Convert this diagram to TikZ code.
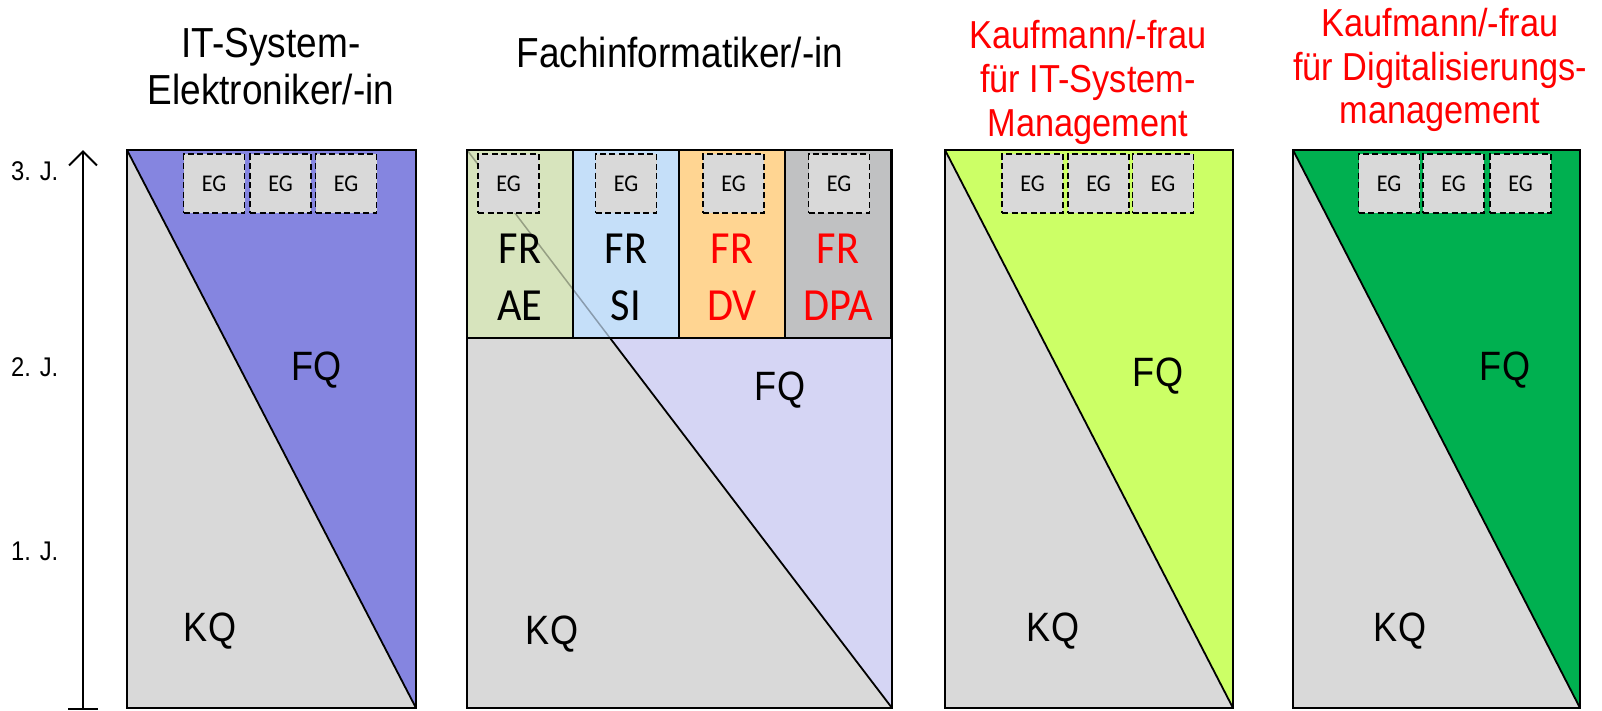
\documentclass[tikz,border=0pt]{standalone}
\usepackage{fontspec}
\setmainfont{Liberation Sans}
\newfontfamily\narrowfont[FakeStretch=0.88]{Liberation Sans}
\newfontfamily\calfont[FakeStretch=0.92]{Carlito}
\usetikzlibrary{arrows.meta}
\definecolor{kgray}{HTML}{D9D9D9}
\definecolor{blueA}{HTML}{8585E0}
\definecolor{lavA}{HTML}{D5D5F4}
\definecolor{cellgreen}{HTML}{D7E4BD}
\definecolor{cellblue}{HTML}{C5DFF9}
\definecolor{cellorange}{HTML}{FFD592}
\definecolor{cellgray}{HTML}{C0C1C2}
\definecolor{limeA}{HTML}{CCFF66}
\definecolor{greenA}{HTML}{00B050}
\definecolor{redA}{HTML}{FF0000}
\begin{document}
\begin{tikzpicture}[x=1pt,y=-1pt,
  bd/.style={draw=black, line width=1.8pt},
  cellbd/.style={draw=black, line width=2.6pt},
  diag/.style={draw=black, line width=1.8pt},
  egbox/.style={draw=black, dash pattern=on 6pt off 3.5pt, line width=1.7pt, fill=kgray,
     minimum width=61pt, minimum height=59pt, inner sep=0pt, font=\calfont\fontsize{24}{26}\selectfont},
  frtext/.style={align=center, inner sep=0pt, font=\calfont\fontsize{46}{57}\selectfont},
  qtext/.style={inner sep=0pt, font=\narrowfont\fontsize{41}{45}\selectfont},
  blacktitle/.style={align=center, inner sep=0pt, anchor=base, font=\narrowfont\fontsize{42}{47}\selectfont},
  redtitle/.style={align=center, inner sep=0pt, anchor=base, text=redA, font=\narrowfont\fontsize{39}{44}\selectfont},
  yeartext/.style={inner sep=0pt, anchor=base west, font=\narrowfont\fontsize{27}{30}\selectfont}]
\useasboundingbox (0,0) rectangle (1602,710);

% time axis
\coordinate (abot) at (83,709);
\coordinate (atop) at (83,150);
\coordinate (tickl) at (68,709);
\coordinate (tickr) at (98,709);
\draw[line width=2pt, -{Straight Barb[length=14pt,width=28pt,line width=2pt]}] (abot) -- (atop);
\draw[line width=2pt] (tickl) -- (tickr);
\node[yeartext] (y3) at (11,180) {3. J.};
\node[yeartext] (y2) at (11,376) {2. J.};
\node[yeartext] (y1) at (11,560) {1. J.};

% titles
\node[blacktitle] (t1a) at (271,57) {IT-System-};
\node[blacktitle] (t1b) at (271,104) {Elektroniker/-in};
\node[blacktitle] (t2) at (680,67) {Fachinformatiker/-in};
\node[redtitle] (t3a) at (1088,48) {Kaufmann/-frau};
\node[redtitle] (t3b) at (1088,92) {für IT-System-};
\node[redtitle] (t3c) at (1088,136) {Management};
\node[redtitle] (t4a) at (1440,36) {Kaufmann/-frau};
\node[redtitle] (t4b) at (1440,80) {für Digitalisierungs-};
\node[redtitle] (t4c) at (1440,123) {management};

% panel 1
\fill[kgray] (127,150) rectangle (416,708);
\fill[blueA] (127,150) -- (416,150) -- (416,708) -- cycle;
\draw[diag] (127,150) -- (416,708);
\draw[bd] (127,150) rectangle (416,708);
\node[egbox] (e11) at (214,183.5) {EG};
\node[egbox] (e12) at (280.5,183.5) {EG};
\node[egbox] (e13) at (346,183.5) {EG};
\node[qtext] (fq1) at (317,370) {FQ};
\node[qtext] (kq1) at (210,631) {KQ};

% panel 2
\fill[kgray] (467,150) rectangle (892,708);
\fill[lavA] (467,150) -- (892,150) -- (892,708) -- cycle;
\draw[diag] (610,338) -- (892,708);
\draw[bd] (467,150) rectangle (892,708);
\filldraw[cellbd, fill=cellgreen] (467,150) rectangle (573,338);
\filldraw[cellbd, fill=cellblue] (573,150) rectangle (679,338);
\filldraw[cellbd, fill=cellorange] (679,150) rectangle (785,338);
\filldraw[cellbd, fill=cellgray] (785,150) rectangle (891,338);
\draw[line width=1.5pt, draw=black, opacity=0.3] (467,150) -- (610,338);
\node[egbox] (e21) at (508.5,183.5) {EG};
\node[egbox] (e22) at (626,183.5) {EG};
\node[egbox] (e23) at (733.5,183.5) {EG};
\node[egbox] (e24) at (839,183.5) {EG};
\node[frtext] (fr1) at (520,277) {FR\\AE};
\node[frtext] (fr2) at (626,277) {FR\\SI};
\node[frtext, text=redA] (fr3) at (732,277) {FR\\DV};
\node[frtext, text=redA] (fr4) at (838,277) {FR\\DPA};
\node[qtext] (fq2) at (780,390) {FQ};
\node[qtext] (kq2) at (552,634) {KQ};

% panel 3
\fill[kgray] (945,150) rectangle (1233,708);
\fill[limeA] (945,150) -- (1233,150) -- (1233,708) -- cycle;
\draw[diag] (945,150) -- (1233,708);
\draw[bd] (945,150) rectangle (1233,708);
\node[egbox] (e31) at (1032.5,183.5) {EG};
\node[egbox] (e32) at (1098.5,183.5) {EG};
\node[egbox] (e33) at (1163,183.5) {EG};
\node[qtext] (fq3) at (1158,376) {FQ};
\node[qtext] (kq3) at (1053,631) {KQ};

% panel 4
\fill[kgray] (1293,150) rectangle (1580,708);
\fill[greenA] (1293,150) -- (1580,150) -- (1580,708) -- cycle;
\draw[diag] (1293,150) -- (1580,708);
\draw[bd] (1293,150) rectangle (1580,708);
\node[egbox] (e41) at (1389,183.5) {EG};
\node[egbox] (e42) at (1453.5,183.5) {EG};
\node[egbox] (e43) at (1520.5,183.5) {EG};
\node[qtext] (fq4) at (1505,370) {FQ};
\node[qtext] (kq4) at (1400,631) {KQ};
\end{tikzpicture}
\end{document}
